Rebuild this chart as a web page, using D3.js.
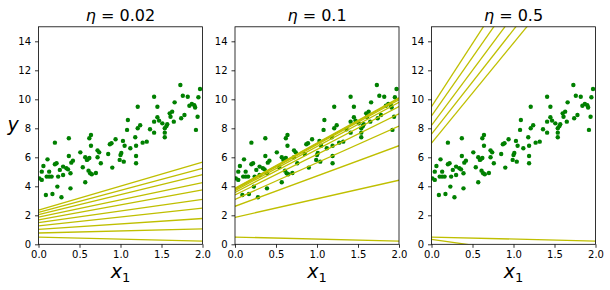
<!DOCTYPE html>
<html>
<head>
<meta charset="utf-8">
<script src="https://cdn.jsdelivr.net/npm/d3@7"></script>
<style>
  body { margin: 0; background: #fff; }
  svg { display: block; }
</style>
</head>
<body>
<svg id="chart"></svg>
<script>
// training points
const xs = [0.01,0.04,0.04,0.06,0.09,0.10,0.11,0.13,0.13,0.16,0.17,0.20,0.20,0.22,0.23,0.24,0.26,0.28,0.30,0.30,
  0.34,0.36,0.37,0.37,0.39,0.39,0.40,0.42,0.51,0.54,0.57,0.57,0.59,0.60,0.61,0.62,0.62,0.64,0.64,0.63,
  0.65,0.70,0.72,0.72,0.74,0.76,0.85,0.87,0.89,0.90,0.94,0.99,1.00,1.01,1.04,1.03,1.05,1.08,1.09,1.12,
  1.18,1.19,1.19,1.19,1.21,1.21,1.24,1.27,1.32,1.36,1.41,1.41,1.41,1.45,1.45,1.47,1.51,1.54,1.54,1.54,
  1.56,1.57,1.60,1.61,1.63,1.65,1.66,1.73,1.74,1.76,1.78,1.82,1.84,1.87,1.90,1.91,1.92,1.94,1.95,1.97];
const ys = [4.55,4.44,5.01,5.40,3.40,4.67,5.86,5.01,4.67,4.67,3.47,7.01,5.52,5.59,3.98,4.67,5.13,3.24,5.36,4.78,
  5.24,5.17,7.31,6.09,4.90,3.86,5.63,5.77,6.34,5.31,6.00,4.28,5.82,5.86,5.08,5.95,7.31,7.54,6.80,4.90,
  4.83,4.92,6.48,6.00,6.34,5.59,6.23,6.90,6.97,5.29,7.24,5.82,6.16,6.30,5.70,7.13,6.80,7.89,8.57,6.62,
  7.38,6.80,6.09,5.59,9.49,8.00,8.21,7.01,7.08,7.93,7.70,10.18,8.46,9.49,8.76,8.53,8.34,7.38,7.70,8.00,
  8.16,8.28,9.03,8.80,9.15,8.46,9.79,10.99,8.69,10.25,8.92,10.18,9.56,9.68,9.59,9.43,7.89,8.80,10.14,10.71];

// learning rates and the first gradient descent steps: y at x=0 and y at x=2
const etas = ["0.02", "0.1", "0.5"];
const lineStart02 = [0.50,0.78,1.03,1.27,1.49,1.69,1.88,2.05,2.21,2.36];
const lineEnd02   = [0.22,1.06,1.78,2.50,3.10,3.76,4.26,4.80,5.23,5.66];
const lineStart01 = [0.50,1.86,2.62,3.10,3.40,3.58,3.70,3.78,3.83,3.87];
const lineEnd01   = [0.22,4.42,6.80,8.15,9.00,9.50,9.80,9.96,10.05,10.10];
const lineStart05 = [0.50,0.34,6.98,7.60,8.20,8.85,9.50];
const lineEnd05   = [0.22,-1.26,20.78,22.0,23.4,25.05,26.9];

const xTicks = [0, 0.5, 1, 1.5, 2];
const yTicks = [0, 2, 4, 6, 8, 10, 12, 14];

const width = 610, height = 290;
const panelLefts = [38.5, 235, 431.5];
const panelW = 164;
const plotTop = 26.8, plotBottom = 244.3;
const plotH = plotBottom - plotTop;

const svg = d3.select("#chart").attr("width", width).attr("height", height);
const defs = svg.append("defs");

const x = d3.scaleLinear().domain([0, 2]).range([0, panelW]);
const y = d3.scaleLinear().domain([0, 15]).range([plotH, 0]);

const panels = [
  { eta: etas[0], start: lineStart02, end: lineEnd02 },
  { eta: etas[1], start: lineStart01, end: lineEnd01 },
  { eta: etas[2], start: lineStart05, end: lineEnd05 }
];

panels.forEach((p, i) => {
  const g = svg.append("g").attr("transform", `translate(${panelLefts[i]},${plotTop})`);

  defs.append("clipPath").attr("id", "clip" + i)
    .append("rect").attr("width", panelW).attr("height", plotH);

  const plot = g.append("g").attr("clip-path", `url(#clip${i})`);

  // data points
  plot.selectAll("circle")
    .data(xs.map((d, k) => [d, ys[k]]))
    .enter().append("circle")
    .attr("cx", d => x(d[0]))
    .attr("cy", d => y(d[1]))
    .attr("r", 2.2)
    .attr("fill", "#008000");

  // predictions for each step
  plot.selectAll("line")
    .data(p.start.map((s, k) => [s, p.end[k]]))
    .enter().append("line")
    .attr("x1", x(0)).attr("x2", x(2))
    .attr("y1", d => y(d[0])).attr("y2", d => y(d[1]))
    .attr("stroke", "#bfbf00")
    .attr("stroke-width", 1.3);

  // axes
  const xAxis = g.append("g")
    .attr("transform", `translate(0,${plotH})`)
    .call(d3.axisBottom(x).tickValues(xTicks).tickFormat(d3.format(".1f")).tickSize(3.5).tickPadding(3).tickSizeOuter(0));
  const yAxis = g.append("g")
    .call(d3.axisLeft(y).tickValues(yTicks).tickSize(3.5).tickPadding(4).tickSizeOuter(0));

  [xAxis, yAxis].forEach(a => {
    a.select(".domain").remove();
    a.selectAll(".tick line").attr("stroke", "#000").attr("stroke-width", 0.8);
    a.selectAll(".tick text")
      .attr("fill", "#000")
      .style("font-family", "DejaVu Sans")
      .style("font-size", "10px");
  });

  // frame
  g.append("rect")
    .attr("width", panelW).attr("height", plotH)
    .attr("fill", "none").attr("stroke", "#000").attr("stroke-width", 0.8);

  // title
  const t = g.append("text")
    .attr("x", panelW / 2).attr("y", -6)
    .attr("text-anchor", "middle")
    .style("font-family", "DejaVu Sans")
    .style("font-size", "16px")
    .attr("fill", "#000");
  t.append("tspan").style("font-style", "italic").text("η");
  t.append("tspan").text(" = " + p.eta);

  // x label
  const xl = g.append("text")
    .attr("x", panelW / 2).attr("y", 278 - plotTop)
    .attr("text-anchor", "middle")
    .style("font-family", "DejaVu Sans")
    .style("font-size", "19px")
    .attr("fill", "#000");
  xl.append("tspan").style("font-style", "italic").text("x");
  xl.append("tspan").attr("dy", 4).style("font-size", "13px").text("1");
});

// y label on the first panel only
svg.append("text")
  .attr("x", 13).attr("y", 131)
  .attr("text-anchor", "middle")
  .style("font-family", "DejaVu Sans")
  .style("font-size", "19px")
  .style("font-style", "italic")
  .attr("fill", "#000")
  .text("y");
</script>
</body>
</html>
